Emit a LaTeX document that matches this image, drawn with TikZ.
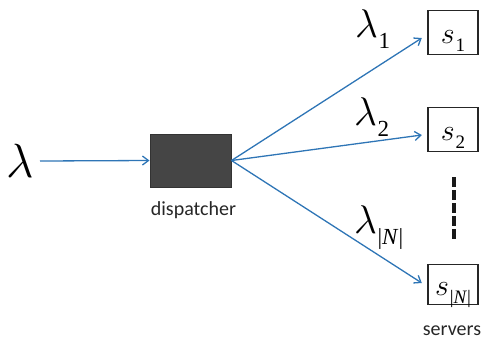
\RequirePackage{fix-cm}
\documentclass[tikz,border=0pt]{standalone}
\usepackage{fontspec}
\newfontfamily\calib{Carlito}
\newfontfamily\tms{Liberation Serif}
\usetikzlibrary{arrows.meta}
\definecolor{arrblue}{HTML}{2E75B6}
\definecolor{dispgray}{HTML}{454545}
\newcommand{\lamlab}[1]{{\fontsize{40}{40}\selectfont$\lambda$}\kern0.5pt\raisebox{-11pt}{\fontsize{23}{23}\selectfont #1}}
\newcommand{\srvlab}[1]{{\fontsize{30}{30}\selectfont$s$}\kern1pt\raisebox{-8pt}{\fontsize{19}{19}\selectfont #1}}
\begin{document}
\begin{tikzpicture}[x=1pt,y=-1pt,
  flow/.style={draw=arrblue, line width=1.3pt, -{Straight Barb[length=6pt,width=9pt]}},
  server/.style={draw=black!85, line width=1.4pt, minimum width=50pt, minimum height=44pt, inner sep=0pt,
     font=\tms, text height=21pt, text depth=0pt},
  lab/.style={font=\calib\fontsize{20}{20}\selectfont, inner sep=0pt, anchor=base, text=black!85},
  lamsty/.style={font=\tms, inner sep=0pt, anchor=base west}]
\useasboundingbox (0,0) rectangle (482,341);
\node[lamsty] (lam) at (6,177) {\fontsize{48}{48}\selectfont$\lambda$};
\node[draw=black!80, fill=dispgray, line width=1pt, minimum width=81pt, minimum height=53pt, inner sep=0pt] (disp) at (190.5,160.5) {};
\node[lab] (dl) at (193.5,215) {dispatcher};
\node[server] (s1) at (453,32.5) {\srvlab{1}};
\node[server] (s2) at (453,129.5) {\srvlab{2}};
\node[server, minimum height=40pt] (sN) at (453,284.5) {\srvlab{|\textit{N}|}};
\node[lab] (sl) at (452,335) {servers};
\coordinate (dt) at (454,177);
\coordinate (db) at (454,239);
\draw[line width=4pt, dash pattern=on 10pt off 3pt, draw=black!90] (dt) -- (db);
\node[lamsty] (l1) at (355,37) {\lamlab{1}};
\node[lamsty] (l2) at (354,125) {\lamlab{2}};
\node[lamsty] (lN) at (354,233) {\lamlab{|\textit{N}|}};
\coordinate (inS) at (40,161);
\draw[flow] (inS) -- (disp.west);
\draw[flow] (disp.east) -- ([xshift=-5.5pt,yshift=-5.5pt]s1.west);
\draw[flow] (disp.east) -- ([xshift=-5.5pt,yshift=-5.5pt]s2.west);
\draw[flow] (disp.east) -- ([xshift=-5.5pt,yshift=1.5pt]sN.west);
\end{tikzpicture}
\end{document}
